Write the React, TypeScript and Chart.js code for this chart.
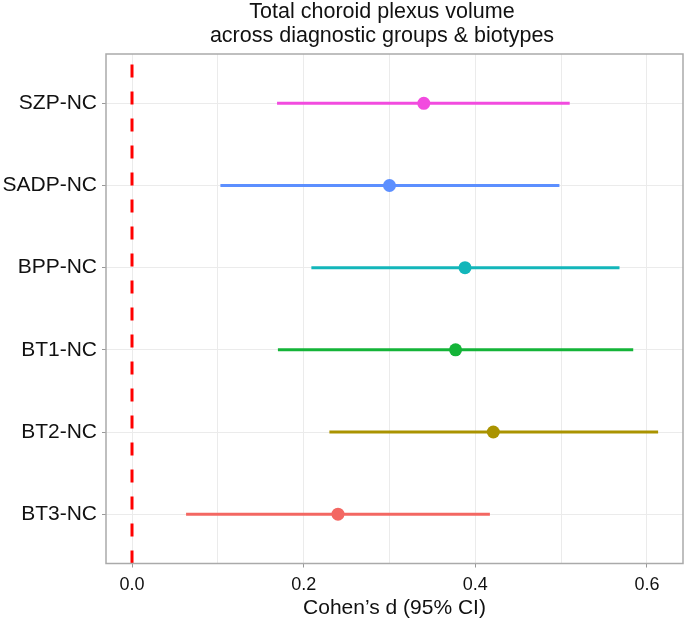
import React, { useEffect, useRef } from 'react';
import { Chart, registerables } from 'chart.js';

Chart.register(...registerables);

const groups = ['SZP-NC', 'SADP-NC', 'BPP-NC', 'BT1-NC', 'BT2-NC', 'BT3-NC'];
const estimates = [0.340, 0.300, 0.388, 0.377, 0.421, 0.240];
const lower = [0.169, 0.103, 0.209, 0.170, 0.230, 0.063];
const upper = [0.510, 0.498, 0.568, 0.584, 0.613, 0.417];
const colors = ['#F24BDF', '#5C8FFF', '#13B6BA', '#14B438', '#AA9300', '#F36762'];
const xMajorValues = [0, 0.2, 0.4, 0.6];
const xMajorLabels = ['0.0', '0.2', '0.4', '0.6'];
const xGridValues = [0, 0.1, 0.2, 0.3, 0.4, 0.5, 0.6];
const titleLines = ['Total choroid plexus volume', 'across diagnostic groups & biotypes'];
const xTitle = 'Cohen\u2019s d (95% CI)';

const FONT = '"Liberation Sans", Arial, Helvetica, sans-serif';

const isMajor = (v: number) => xMajorValues.some((m) => Math.abs(m - v) < 1e-9);

const framePlugin = {
  id: 'frame',
  afterDraw(chart: any) {
    const { ctx, chartArea } = chart;
    const { left, top, right, bottom } = chartArea;
    ctx.save();
    ctx.strokeStyle = '#aaaaaa';
    ctx.lineWidth = 1.5;
    ctx.strokeRect(left, top, right - left, bottom - top);
    ctx.fillStyle = '#111111';
    ctx.font = `21.5px ${FONT}`;
    ctx.textAlign = 'center';
    ctx.textBaseline = 'alphabetic';
    ctx.fillText(titleLines[0], 382, 18);
    ctx.fillText(titleLines[1], 382, 42);
    ctx.restore();
  },
};

export default function App() {
  const ref = useRef<HTMLCanvasElement | null>(null);

  useEffect(() => {
    if (!ref.current) return;
    const datasets: any[] = [];
    datasets.push({
      type: 'scatter',
      data: estimates.map((e, i) => ({ x: e, y: i })),
      pointRadius: 6.5,
      pointHoverRadius: 6.5,
      pointBackgroundColor: colors,
      pointBorderWidth: 0,
      order: 0,
    });
    groups.forEach((g, i) => {
      datasets.push({
        type: 'line',
        label: g,
        data: [
          { x: lower[i], y: i },
          { x: upper[i], y: i },
        ],
        borderColor: colors[i],
        borderWidth: 3,
        pointRadius: 0,
        order: 1,
      });
    });
    datasets.push({
      type: 'line',
      data: [
        { x: 0, y: 5.6 },
        { x: 0, y: -0.6 },
      ],
      borderColor: '#FF0000',
      borderWidth: 3,
      borderDash: [13, 14],
      pointRadius: 0,
      order: 2,
    });

    const chart = new Chart(ref.current, {
      type: 'scatter',
      data: { datasets },
      plugins: [framePlugin],
      options: {
        animation: false,
        responsive: false,
        maintainAspectRatio: false,
        layout: { autoPadding: false, padding: { top: 54, right: 2, left: 0, bottom: 0 } },
        plugins: { legend: { display: false }, tooltip: { enabled: false }, title: { display: false } },
        scales: {
          x: {
            type: 'linear',
            min: -0.0303,
            max: 0.642,
            afterBuildTicks: (axis: any) => {
              axis.ticks = xGridValues.map((v) => ({ value: v }));
            },
            afterFit: (scale: any) => {
              scale.height = 61.5;
              scale.paddingLeft = 0;
              scale.paddingRight = 0;
            },
            ticks: {
              autoSkip: false,
              maxRotation: 0,
              padding: 7,
              color: '#111111',
              font: { family: FONT, size: 18 },
              callback: (v: any) => {
                const idx = xMajorValues.findIndex((m) => Math.abs(m - Number(v)) < 1e-9);
                return idx >= 0 ? xMajorLabels[idx] : '';
              },
            },
            grid: {
              color: '#ebebeb',
              lineWidth: 1,
              tickLength: 4,
              tickColor: (ctx: any) => (ctx.tick && isMajor(ctx.tick.value) ? '#999999' : 'rgba(0,0,0,0)'),
            },
            border: { display: false },
            title: {
              display: true,
              text: xTitle,
              color: '#111111',
              font: { family: FONT, size: 21 },
              padding: { top: 0, bottom: 4 },
            },
          },
          y: {
            type: 'linear',
            reverse: true,
            min: -0.6,
            max: 5.6,
            afterBuildTicks: (axis: any) => {
              axis.ticks = groups.map((_, i) => ({ value: i }));
            },
            afterFit: (scale: any) => {
              scale.width = 106;
            },
            ticks: {
              autoSkip: false,
              padding: 5,
              color: '#111111',
              font: { family: FONT, size: 21 },
              callback: (v: any) => groups[Math.round(Number(v))] ?? '',
            },
            grid: {
              color: '#ebebeb',
              lineWidth: 1,
              tickLength: 4,
              tickColor: '#999999',
            },
            border: { display: false },
          },
        },
      },
    });
    return () => chart.destroy();
  }, []);

  return (
    <div style={{ position: 'fixed', left: 0, top: 0, width: 685, height: 625, background: '#ffffff' }}>
      <canvas ref={ref} width={685} height={625} style={{ width: 685, height: 625 }} />
    </div>
  );
}
